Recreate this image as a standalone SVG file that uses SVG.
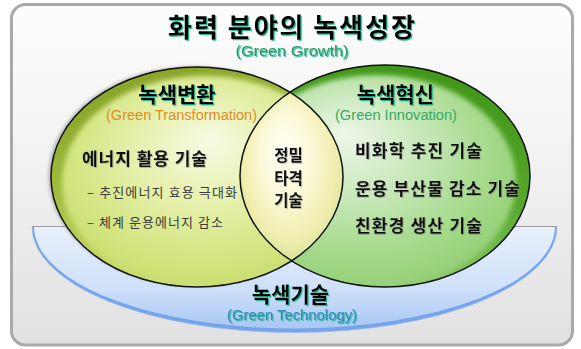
<svg xmlns="http://www.w3.org/2000/svg" width="581" height="349" viewBox="0 0 581 349">
  <defs>
    <style>
      .ko { font-family: "Noto Sans CJK KR", "Noto Sans", sans-serif; }
      .en { font-family: "Liberation Sans", Arial, sans-serif; font-size: 14px; font-weight: 400; }
      .head { font-weight: 700; fill: #000; filter: url(#glow); }
      .item { font-weight: 700; font-size: 17px; fill: #111; filter: url(#soft); }
      .sub { font-size: 13px; fill: #3a3a3a; }
      .outline { fill: none; stroke: #111; stroke-width: 1.5; }
    </style>
    <!-- teal glow under heading text -->
    <filter id="glow" x="-10%" y="-20%" width="120%" height="150%">
      <feDropShadow dx="1.2" dy="1.2" stdDeviation="0.4" flood-color="#14b08c" flood-opacity="0.9"/>
    </filter>
    <filter id="soft" x="-10%" y="-20%" width="120%" height="150%">
      <feDropShadow dx="0.8" dy="0.8" stdDeviation="0.4" flood-color="#777" flood-opacity="0.6"/>
    </filter>
    <filter id="blur2"><feGaussianBlur stdDeviation="2.5"/></filter>
    <filter id="blur1"><feGaussianBlur stdDeviation="1.5"/></filter>

    <linearGradient id="frameFill" x1="0" y1="0" x2="0" y2="1">
      <stop offset="0" stop-color="#fdfdfd"/>
      <stop offset="0.5" stop-color="#f1f1f1"/>
      <stop offset="1" stop-color="#e1e1e1"/>
    </linearGradient>
    <linearGradient id="bowlFill" x1="0" y1="0" x2="0" y2="1">
      <stop offset="0" stop-color="#e8f1fd"/>
      <stop offset="0.6" stop-color="#cfe0f9"/>
      <stop offset="1" stop-color="#a9c8f4"/>
    </linearGradient>

    <!-- left circle: olive rim, yellow-green body -->
    <linearGradient id="leftRim" x1="0" y1="0" x2="0.4" y2="1">
      <stop offset="0" stop-color="#7f9c22"/>
      <stop offset="0.45" stop-color="#9db83a"/>
      <stop offset="1" stop-color="#cfe276"/>
    </linearGradient>
    <radialGradient id="leftBody" cx="0.5" cy="0.42" r="0.6" fx="0.52" fy="0.3">
      <stop offset="0" stop-color="#f7fae4"/>
      <stop offset="0.35" stop-color="#e9f2b6"/>
      <stop offset="0.75" stop-color="#d5e684"/>
      <stop offset="1" stop-color="#c8dd6c"/>
    </radialGradient>

    <!-- right circle: deep green rim, light green body -->
    <linearGradient id="rightRim" x1="0.7" y1="0" x2="0.4" y2="1">
      <stop offset="0" stop-color="#3e9616"/>
      <stop offset="0.5" stop-color="#57a82c"/>
      <stop offset="1" stop-color="#92cf74"/>
    </linearGradient>
    <radialGradient id="rightBody" cx="0.45" cy="0.4" r="0.62" fx="0.38" fy="0.28">
      <stop offset="0" stop-color="#eef7ea"/>
      <stop offset="0.35" stop-color="#cdeac0"/>
      <stop offset="0.75" stop-color="#a6da8c"/>
      <stop offset="1" stop-color="#94d076"/>
    </radialGradient>

    <!-- overlap lens -->
    <radialGradient id="lensFill" cx="0.5" cy="0.45" r="0.55" fx="0.4" fy="0.32">
      <stop offset="0" stop-color="#fffff6"/>
      <stop offset="0.45" stop-color="#fbf9d8"/>
      <stop offset="0.8" stop-color="#f1eeb0"/>
      <stop offset="1" stop-color="#d9e49a"/>
    </radialGradient>

    <clipPath id="clipLeft"><ellipse cx="197" cy="177" rx="146" ry="110"/></clipPath>
    <clipPath id="clipRight"><ellipse cx="385" cy="176" rx="145" ry="111"/></clipPath>
  </defs>

  <!-- panel -->
  <g id="frame">
    <rect x="11.5" y="4.5" width="561" height="340.5" rx="14" fill="url(#frameFill)" stroke="#a9a9a9" stroke-width="3"/>
  </g>

  <!-- green technology bowl -->
  <g id="green-technology">
    <path d="M32,226.5 H557 A262.5,106 0 0 1 32,226.5 Z" fill="#74a4ec"/>
    <path d="M34,226.5 H555 A260.5,102 0 0 1 34,226.5 Z" fill="url(#bowlFill)"/>
    <path d="M32,226.5 H557" stroke="#9a9a9a" stroke-width="1"/>
    <path d="M32,226.5 A262.5,106 0 0 0 557,226.5" fill="none" stroke="#9ab8e8" stroke-width="0.8"/>
  </g>

  <!-- left circle: green transformation -->
  <g id="green-transformation">
    <ellipse cx="194" cy="176" rx="146" ry="110" fill="#9a9a9a" opacity="0.6" filter="url(#blur1)"/>
    <g clip-path="url(#clipLeft)">
      <ellipse cx="197" cy="177" rx="146" ry="110" fill="url(#leftRim)"/>
      <ellipse cx="204" cy="182" rx="142" ry="106" fill="url(#leftBody)" filter="url(#blur2)"/>
    </g>
  </g>

  <!-- right circle: green innovation -->
  <g id="green-innovation">
    <g clip-path="url(#clipRight)">
      <ellipse cx="385" cy="176" rx="145" ry="111" fill="url(#rightRim)"/>
      <ellipse cx="377" cy="181" rx="139" ry="106" fill="url(#rightBody)" filter="url(#blur2)"/>
    </g>
  </g>

  <!-- overlap: precision strike -->
  <g id="precision-strike">
    <g clip-path="url(#clipLeft)">
      <rect x="240" y="92" width="103" height="169" fill="url(#lensFill)" clip-path="url(#clipRight)"/>
    </g>
  </g>

  <!-- circle outlines -->
  <g id="outlines">
    <ellipse class="outline" cx="197" cy="177" rx="146" ry="110"/>
    <ellipse class="outline" cx="385" cy="176" rx="145" ry="111"/>
  </g>

  <!-- labels -->
  <g id="title">
    <text class="ko head" text-anchor="middle"><tspan x="291.5" y="37" font-size="26" textLength="247" lengthAdjust="spacing">화력 분야의 녹색성장</tspan><tspan class="en" x="292" y="56" fill="#2e9a6c" textLength="113" lengthAdjust="spacingAndGlyphs">(Green Growth)</tspan></text>
  </g>

  <g id="label-transformation">
    <text class="ko head" x="177" y="102" font-size="21" text-anchor="middle">녹색변환</text>
    <text class="en" x="181.5" y="119.5" text-anchor="middle" fill="#e38c1c" textLength="151" lengthAdjust="spacingAndGlyphs">(Green Transformation)</text>
    <text class="ko item" x="82" y="165" textLength="125" lengthAdjust="spacing">에너지 활용 기술</text>
    <text class="ko sub" x="87" y="197" textLength="150" lengthAdjust="spacing">– 추진에너지 효용 극대화</text>
    <text class="ko sub" x="87" y="227" textLength="136" lengthAdjust="spacing">– 체계 운용에너지 감소</text>
  </g>

  <g id="label-innovation">
    <text class="ko head" x="395.5" y="102" font-size="21" text-anchor="middle">녹색혁신</text>
    <text class="en" x="396" y="119.5" text-anchor="middle" fill="#38aa62" textLength="122" lengthAdjust="spacingAndGlyphs">(Green Innovation)</text>
    <text class="ko item" x="355" y="157" textLength="127" lengthAdjust="spacing">비화학 추진 기술</text>
    <text class="ko item" x="355" y="195" textLength="165" lengthAdjust="spacing">운용 부산물 감소 기술</text>
    <text class="ko item" x="355" y="232" textLength="127" lengthAdjust="spacing">친환경 생산 기술</text>
  </g>

  <g id="label-precision">
    <text class="ko item" text-anchor="middle" font-size="15.5" style="font-size:15.5px"><tspan x="288.5" y="161">정밀</tspan><tspan x="288.5" y="183.5">타격</tspan><tspan x="288.5" y="206">기술</tspan></text>
  </g>

  <g id="label-technology">
    <text class="ko head" text-anchor="middle"><tspan x="290.5" y="302" font-size="21">녹색기술</tspan><tspan class="en" x="292" y="320" fill="#3388bb" textLength="130" lengthAdjust="spacingAndGlyphs">(Green Technology)</tspan></text>
  </g>
</svg>
